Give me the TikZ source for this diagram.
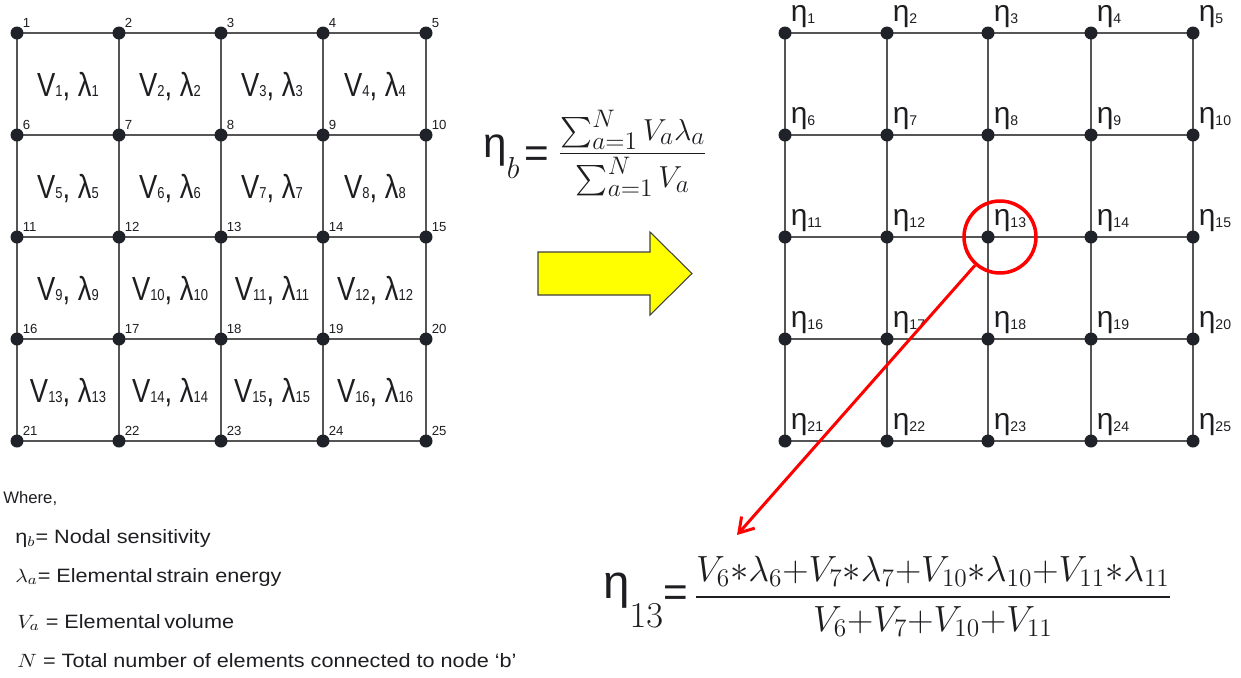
\documentclass[tikz,border=0pt]{standalone}
\usepackage{amsmath}
\usepackage{fontspec}
\setmainfont{Liberation Sans}
\usetikzlibrary{positioning, backgrounds, arrows.meta}

\definecolor{meshgray}{HTML}{555555}
\definecolor{dotdark}{HTML}{1F2329}
\definecolor{inkdark}{HTML}{1E1E22}
\definecolor{arrowyellow}{HTML}{FFFF00}
\definecolor{arrowedge}{HTML}{404040}

\newcommand{\cellsub}[1]{{\fontsize{9}{9}\selectfont #1}}
\newcommand{\etasub}[1]{\raisebox{-1.5pt}{\fontsize{8}{8}\selectfont #1}}
\newcommand{\bigeq}[1]{\raisebox{#1}{\fontsize{24}{24}\selectfont =}}

\tikzset{
	meshdot/.style={circle, fill=dotdark, inner sep=0pt, minimum size=0.26cm}
}
\tikzset{
	meshline/.style={draw=meshgray, line width=0.85pt}
}
\tikzset{
	numlabel/.style={font=\fontsize{7.5}{8}\selectfont, text=inkdark, inner sep=0pt}
}
\tikzset{
	etalabel/.style={font=\fontsize{17}{17}\selectfont, text=inkdark, inner sep=0pt}
}
\tikzset{
	celltext/.style={font=\fontsize{19}{19}\selectfont, text=inkdark, inner sep=0pt, anchor=base, xscale=0.82}
}
\tikzset{
	legendtext/.style={font=\fontsize{11}{13}\selectfont, text=inkdark, inner sep=0pt, anchor=base west, xscale=1.12}
}

\begin{document}
\begin{tikzpicture}[x=0.02cm, y=-0.02cm, label distance=0.5pt]

			\useasboundingbox (0,0) rectangle (1241,677);

			% element mesh
			\begin{scope}
				\node[meshdot, label={[numlabel]north east:1}] (a1) at (17,33) {};
				\node[meshdot, label={[numlabel]north east:2}] (a2) at (119,33) {};
				\node[meshdot, label={[numlabel]north east:3}] (a3) at (221,33) {};
				\node[meshdot, label={[numlabel]north east:4}] (a4) at (323,33) {};
				\node[meshdot, label={[numlabel]north east:5}] (a5) at (426,33) {};
				\node[meshdot, label={[numlabel]north east:6}] (a6) at (17,135) {};
				\node[meshdot, label={[numlabel]north east:7}] (a7) at (119,135) {};
				\node[meshdot, label={[numlabel]north east:8}] (a8) at (221,135) {};
				\node[meshdot, label={[numlabel]north east:9}] (a9) at (323,135) {};
				\node[meshdot, label={[numlabel]north east:10}] (a10) at (426,135) {};
				\node[meshdot, label={[numlabel]north east:11}] (a11) at (17,237) {};
				\node[meshdot, label={[numlabel]north east:12}] (a12) at (119,237) {};
				\node[meshdot, label={[numlabel]north east:13}] (a13) at (221,237) {};
				\node[meshdot, label={[numlabel]north east:14}] (a14) at (323,237) {};
				\node[meshdot, label={[numlabel]north east:15}] (a15) at (426,237) {};
				\node[meshdot, label={[numlabel]north east:16}] (a16) at (17,339) {};
				\node[meshdot, label={[numlabel]north east:17}] (a17) at (119,339) {};
				\node[meshdot, label={[numlabel]north east:18}] (a18) at (221,339) {};
				\node[meshdot, label={[numlabel]north east:19}] (a19) at (323,339) {};
				\node[meshdot, label={[numlabel]north east:20}] (a20) at (426,339) {};
				\node[meshdot, label={[numlabel]north east:21}] (a21) at (17,441) {};
				\node[meshdot, label={[numlabel]north east:22}] (a22) at (119,441) {};
				\node[meshdot, label={[numlabel]north east:23}] (a23) at (221,441) {};
				\node[meshdot, label={[numlabel]north east:24}] (a24) at (323,441) {};
				\node[meshdot, label={[numlabel]north east:25}] (a25) at (426,441) {};

				\begin{scope}[on background layer]
					\draw[meshline] (a1.center) -- (a5.center);
					\draw[meshline] (a6.center) -- (a10.center);
					\draw[meshline] (a11.center) -- (a15.center);
					\draw[meshline] (a16.center) -- (a20.center);
					\draw[meshline] (a21.center) -- (a25.center);
					\draw[meshline] (a1.center) -- (a21.center);
					\draw[meshline] (a2.center) -- (a22.center);
					\draw[meshline] (a3.center) -- (a23.center);
					\draw[meshline] (a4.center) -- (a24.center);
					\draw[meshline] (a5.center) -- (a25.center);
				\end{scope}

				\node[celltext] (e1) at (68,96.5) {V\cellsub{1}, λ\cellsub{1}};
				\node[celltext] (e2) at (170,96.5) {V\cellsub{2}, λ\cellsub{2}};
				\node[celltext] (e3) at (272,96.5) {V\cellsub{3}, λ\cellsub{3}};
				\node[celltext] (e4) at (375,96.5) {V\cellsub{4}, λ\cellsub{4}};
				\node[celltext] (e5) at (68,198.5) {V\cellsub{5}, λ\cellsub{5}};
				\node[celltext] (e6) at (170,198.5) {V\cellsub{6}, λ\cellsub{6}};
				\node[celltext] (e7) at (272,198.5) {V\cellsub{7}, λ\cellsub{7}};
				\node[celltext] (e8) at (375,198.5) {V\cellsub{8}, λ\cellsub{8}};
				\node[celltext] (e9) at (68,300.5) {V\cellsub{9}, λ\cellsub{9}};
				\node[celltext] (e10) at (170,300.5) {V\cellsub{10}, λ\cellsub{10}};
				\node[celltext] (e11) at (272,300.5) {V\cellsub{11}, λ\cellsub{11}};
				\node[celltext] (e12) at (375,300.5) {V\cellsub{12}, λ\cellsub{12}};
				\node[celltext] (e13) at (68,402.5) {V\cellsub{13}, λ\cellsub{13}};
				\node[celltext] (e14) at (170,402.5) {V\cellsub{14}, λ\cellsub{14}};
				\node[celltext] (e15) at (272,402.5) {V\cellsub{15}, λ\cellsub{15}};
				\node[celltext] (e16) at (375,402.5) {V\cellsub{16}, λ\cellsub{16}};
			\end{scope}

			% nodal mesh
			\begin{scope}
				\node[meshdot, label={[etalabel]north east:η\etasub{1}}] (b1) at (785,33) {};
				\node[meshdot, label={[etalabel]north east:η\etasub{2}}] (b2) at (887,33) {};
				\node[meshdot, label={[etalabel]north east:η\etasub{3}}] (b3) at (988,33) {};
				\node[meshdot, label={[etalabel]north east:η\etasub{4}}] (b4) at (1091,33) {};
				\node[meshdot, label={[etalabel]north east:η\etasub{5}}] (b5) at (1193,33) {};
				\node[meshdot, label={[etalabel]north east:η\etasub{6}}] (b6) at (785,135) {};
				\node[meshdot, label={[etalabel]north east:η\etasub{7}}] (b7) at (887,135) {};
				\node[meshdot, label={[etalabel]north east:η\etasub{8}}] (b8) at (988,135) {};
				\node[meshdot, label={[etalabel]north east:η\etasub{9}}] (b9) at (1091,135) {};
				\node[meshdot, label={[etalabel]north east:η\etasub{10}}] (b10) at (1193,135) {};
				\node[meshdot, label={[etalabel]north east:η\etasub{11}}] (b11) at (785,237) {};
				\node[meshdot, label={[etalabel]north east:η\etasub{12}}] (b12) at (887,237) {};
				\node[meshdot, label={[etalabel]north east:η\etasub{13}}] (b13) at (988,237) {};
				\node[meshdot, label={[etalabel]north east:η\etasub{14}}] (b14) at (1091,237) {};
				\node[meshdot, label={[etalabel]north east:η\etasub{15}}] (b15) at (1193,237) {};
				\node[meshdot, label={[etalabel]north east:η\etasub{16}}] (b16) at (785,339) {};
				\node[meshdot, label={[etalabel]north east:η\etasub{17}}] (b17) at (887,339) {};
				\node[meshdot, label={[etalabel]north east:η\etasub{18}}] (b18) at (988,339) {};
				\node[meshdot, label={[etalabel]north east:η\etasub{19}}] (b19) at (1091,339) {};
				\node[meshdot, label={[etalabel]north east:η\etasub{20}}] (b20) at (1193,339) {};
				\node[meshdot, label={[etalabel]north east:η\etasub{21}}] (b21) at (785,441) {};
				\node[meshdot, label={[etalabel]north east:η\etasub{22}}] (b22) at (887,441) {};
				\node[meshdot, label={[etalabel]north east:η\etasub{23}}] (b23) at (988,441) {};
				\node[meshdot, label={[etalabel]north east:η\etasub{24}}] (b24) at (1091,441) {};
				\node[meshdot, label={[etalabel]north east:η\etasub{25}}] (b25) at (1193,441) {};

				\begin{scope}[on background layer]
					\draw[meshline] (b1.center) -- (b5.center);
					\draw[meshline] (b6.center) -- (b10.center);
					\draw[meshline] (b11.center) -- (b15.center);
					\draw[meshline] (b16.center) -- (b20.center);
					\draw[meshline] (b21.center) -- (b25.center);
					\draw[meshline] (b1.center) -- (b21.center);
					\draw[meshline] (b2.center) -- (b22.center);
					\draw[meshline] (b3.center) -- (b23.center);
					\draw[meshline] (b4.center) -- (b24.center);
					\draw[meshline] (b5.center) -- (b25.center);
				\end{scope}
			\end{scope}

			% averaging formula and big arrow
			\node[anchor=base west, inner sep=0pt, font=\fontsize{19}{22}\selectfont, text=inkdark] (etab) at (483,161)
				{\raisebox{2pt}{\fontsize{24}{24}\selectfont η}\raisebox{-10pt}{$b$}\hspace{3pt}\bigeq{-3.5pt}\hspace{5pt}$\dfrac{\textstyle\sum_{a=1}^{N}V_a\lambda_a}{\textstyle\sum_{a=1}^{N}V_a}$};

			\draw[draw=arrowedge, fill=arrowyellow, line width=0.6pt]
				(538,252) -- (650,252) -- (650,232) -- (692,273.5) -- (650,315) -- (650,295) -- (538,295) -- cycle;

			% highlighted node
			\node[circle, draw=red, line width=2pt, minimum size=1.44cm, inner sep=0pt] (focus) at (1000,237) {};
			\coordinate (tip) at (737,535);
			\draw[red, line width=1.7pt, -{Straight Barb[length=8pt, width=10pt]}] (focus) -- (tip);

			\node[anchor=base west, inner sep=0pt, font=\fontsize{21}{24}\selectfont, text=inkdark] (eta13) at (603,606)
				{\raisebox{4.5pt}{\fontsize{27}{27}\selectfont η}\raisebox{-12pt}{$13$}\bigeq{0pt}\,$\dfrac{V_6{*}\lambda_6{+}V_7{*}\lambda_7{+}V_{10}{*}\lambda_{10}{+}V_{11}{*}\lambda_{11}}{V_6{+}V_7{+}V_{10}{+}V_{11}}$};

			% legend
			\node[anchor=base west, inner sep=0pt, font=\fontsize{9.5}{11}\selectfont, text=inkdark] (where) at (3,503) {Where,};
			\node[legendtext] (leg1) at (15,543) {η$_b$= Nodal sensitivity};
			\node[legendtext] (leg2) at (15,582) {$\lambda_a$= Elemental\,strain energy};
			\node[legendtext] (leg3) at (17,628) {$V_a$ = Elemental\,volume};
			\node[legendtext] (leg4) at (17,667) {$N$ = Total number of elements connected to node ‘b’};

		\end{tikzpicture}
\end{document}
